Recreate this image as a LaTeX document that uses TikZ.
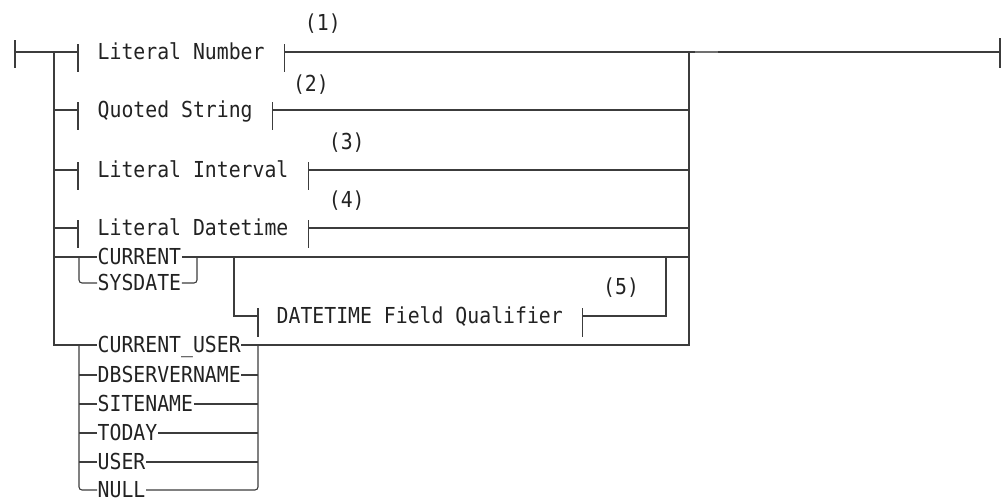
\documentclass[tikz,border=0pt]{standalone}
\usepackage{fontspec}
\newfontfamily\diagfont[FakeStretch=0.9]{DejaVu Sans Mono}
\definecolor{linec}{HTML}{3C3C3C}
\definecolor{txtc}{HTML}{222222}
\definecolor{markc}{HTML}{707070}
\begin{document}
\begin{tikzpicture}[x=1pt,y=-1pt,
  rr/.style={draw=linec, line width=1.1pt},
  lbl/.style={font=\diagfont\fontsize{22}{24}\selectfont, text=txtc, inner xsep=0.5pt, inner ysep=0pt, anchor=base west},
  note/.style={lbl}]
\useasboundingbox (0,0) rectangle (1002,498);

% ---- text nodes
\node[lbl] (ln)  at (97,59)  {Literal Number};
\node[lbl] (qs)  at (97,117) {Quoted String};
\node[lbl] (li)  at (97,177) {Literal Interval};
\node[lbl] (ld)  at (97,235) {Literal Datetime};
\node[lbl] (cur) at (97,264) {CURRENT};
\node[lbl] (sys) at (97,290) {SYSDATE};
\node[lbl] (dtf) at (276,323) {DATETIME Field Qualifier};
\node[lbl] (cu)  at (97,352) {CURRENT\_USER};
\node[lbl] (db)  at (97,382) {DBSERVERNAME};
\node[lbl] (sn)  at (97,411) {SITENAME};
\node[lbl] (td)  at (97,440) {TODAY};
\node[lbl] (us)  at (97,469) {USER};
\node[lbl] (nu)  at (97,497) {NULL};

% ---- junction coordinates
\coordinate (start) at (15,52);
\coordinate (endp) at (1000,52);
\coordinate (lv) at (54,52);
\coordinate (rv) at (689,52);

% ---- start and end ticks
\draw[rr] (15,40) -- (15,68);
\draw[rr] (1000,38) -- (1000,68);

% ---- left trunk and right trunk
\draw[rr] (start) -- (78,52);
\draw[rr] (lv) -- (54,345) -- (cu.west |- 0,345);
\draw[rr] (rv) -- (689,345) -- (cu.east |- 0,345);

% ---- boxed items
\foreach \n/\y in {ln/52, qs/110, li/170, ld/228}{
  \draw[rr] (54,\y) -- (78,\y);
  \draw[rr] (78,\y-8) -- (78,\y+20);
  \draw[rr] ([xshift=19pt]\n.east |- 0,\y-8) -- ([xshift=19pt]\n.east |- 0,\y+20);
}
\draw[rr] ([xshift=19pt]ln.east |- 0,52) -- (endp);
\foreach \n/\y in {qs/110, li/170, ld/228}{
  \draw[rr] ([xshift=19pt]\n.east |- 0,\y) -- (689,\y);
}

% ---- CURRENT / SYSDATE
\draw[rr] (54,257) -- (cur.west |- 0,257);
\draw[rr] (cur.east |- 0,257) -- (689,257);
\draw[rr, rounded corners=3pt] (79,257) -- (79,283) -- (sys.west |- 0,283);
\draw[rr, rounded corners=3pt] (sys.east |- 0,283) -- (197,283) -- (197,257);

% ---- DATETIME Field Qualifier
\draw[rr] (234,257) -- (234,316) -- (258,316);
\draw[rr] (258,308) -- (258,337);
\draw[rr] ([xshift=19pt]dtf.east |- 0,308) -- ([xshift=19pt]dtf.east |- 0,337);
\draw[rr] ([xshift=19pt]dtf.east |- 0,316) -- (666,316) -- (666,257);

% ---- lower group
\draw[rr, rounded corners=3pt] (79,345) -- (79,490) -- (nu.west |- 0,490);
\draw[rr, rounded corners=3pt] (258,345) -- (258,490) -- (nu.east |- 0,490);
\foreach \n/\y in {db/375, sn/404, td/433, us/462}{
  \draw[rr] (79,\y) -- (\n.west |- 0,\y);
  \draw[rr] (\n.east |- 0,\y) -- (258,\y);
}

% ---- small thick mark on main line
\draw[draw=markc, line width=1.8pt] (695,52) -- (718,52);

% ---- notes
\node[note] (n1) at ([xshift=39pt]ln.east |- 0,30)  {(1)};
\node[note] (n2) at ([xshift=39pt]qs.east |- 0,91)  {(2)};
\node[note] (n3) at ([xshift=39pt]li.east |- 0,149) {(3)};
\node[note] (n4) at ([xshift=39pt]ld.east |- 0,207) {(4)};
\node[note] (n5) at ([xshift=39pt]dtf.east |- 0,294) {(5)};
\end{tikzpicture}
\end{document}
